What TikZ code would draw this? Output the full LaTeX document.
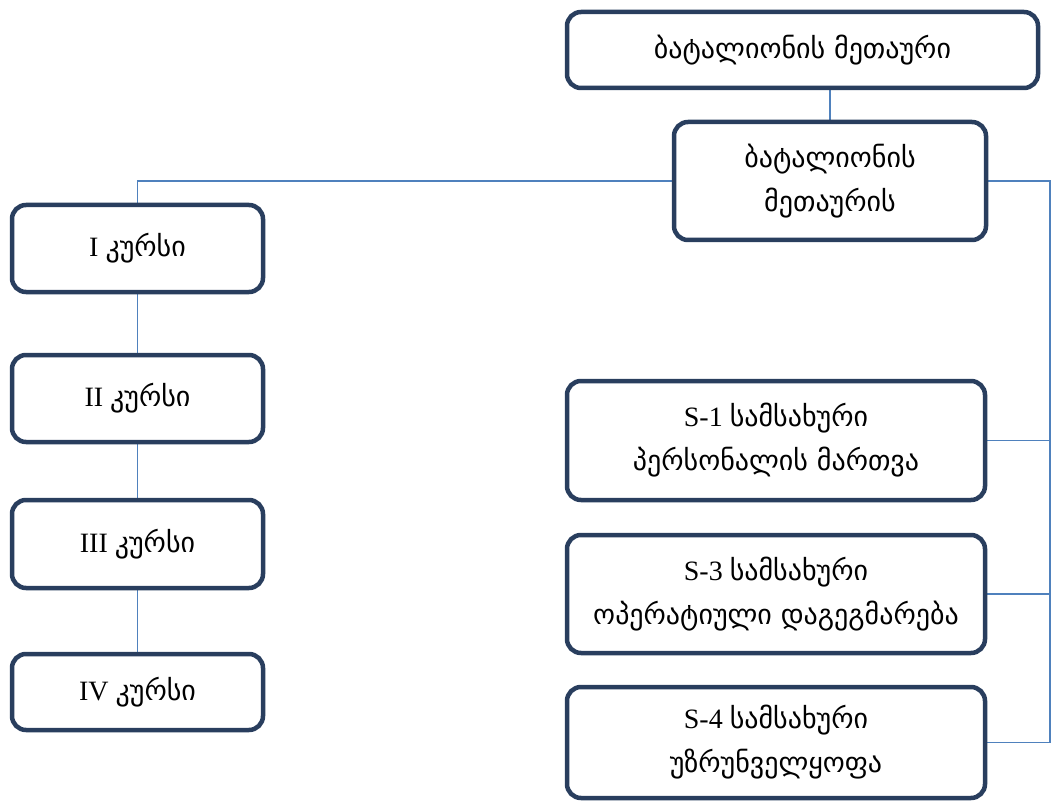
\documentclass[tikz,border=0pt]{standalone}
\usepackage{fontspec}
\setmainfont{Liberation Serif}
\newfontfamily\geo{DejaVu Sans}
\usepackage{xcolor}
\usepackage{tikz}
\usetikzlibrary{positioning,calc,backgrounds}

\definecolor{boxline}{RGB}{41,62,94}
\definecolor{linkblue}{RGB}{79,129,189}

\tikzset{
  unitbox/.style={draw=boxline, line width=4.5pt, rounded corners=14pt, fill=white,
    align=center, font=\fontsize{28}{44}\selectfont, inner sep=0pt},
  link/.style={draw=linkblue, line width=1.4pt}
}

\begin{document}
\begin{tikzpicture}[x=1pt, y=-1pt]
  \useasboundingbox (0,0) rectangle (1062,802);

  % Command
  \node[unitbox, minimum width=471pt, minimum height=76pt] (cmdr) at (802.5,50)
    {\geo ბატალიონის მეთაური};
  \node[unitbox, minimum width=312pt, minimum height=118pt] (deputy) at (830,181)
    {\geo ბატალიონის\\ \geo მეთაურის};

  % Courses
  \node[unitbox, minimum width=251pt, minimum height=87pt] (kurs1) at (137.5,248.5) {I \geo კურსი};
  \node[unitbox, minimum width=251pt, minimum height=87pt] (kurs2) at (137.5,398.5) {II \geo კურსი};
  \node[unitbox, minimum width=251pt, minimum height=88pt] (kurs3) at (137.5,544) {III \geo კურსი};
  \node[unitbox, minimum width=251pt, minimum height=76pt] (kurs4) at (137.5,692) {IV \geo კურსი};

  % Staff sections
  \node[unitbox, minimum width=418pt, minimum height=119pt] (sone) at (776,440.5)
    {S-1 {\geo სამსახური}\\ \geo პერსონალის მართვა};
  \node[unitbox, minimum width=418pt, minimum height=118pt] (sthree) at (776,594)
    {S-3 {\geo სამსახური}\\ \geo ოპერატიული დაგეგმარება};
  \node[unitbox, minimum width=418pt, minimum height=111pt] (sfour) at (776,742.5)
    {S-4 {\geo სამსახური}\\ \geo უზრუნველყოფა};

  % Connectors
  \coordinate (bus) at (1050,181);
  \begin{scope}[on background layer]
    \draw[link] (cmdr.south -| deputy.north) -- (deputy.north);
    \draw[link] (deputy.west) -| (kurs1.north);
    \draw[link] (kurs1) -- (kurs2);
    \draw[link] (kurs2) -- (kurs3);
    \draw[link] (kurs3) -- (kurs4);
    \draw[link] (deputy.east) -- (bus) |- (sfour.east);
    \draw[link] (sone.east) -- (sone.east -| bus);
    \draw[link] (sthree.east) -- (sthree.east -| bus);
  \end{scope}
\end{tikzpicture}
\end{document}
